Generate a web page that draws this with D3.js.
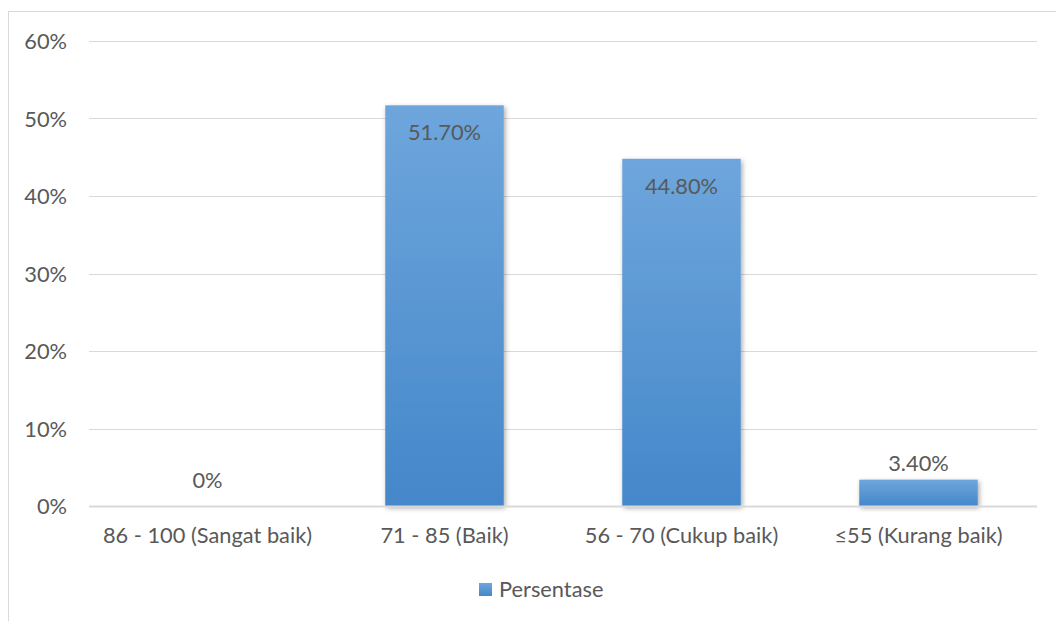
<!DOCTYPE html>
<html><head><meta charset="utf-8">
<script src="https://cdn.jsdelivr.net/npm/d3@7"></script>
<style>body{margin:0;background:#fff}svg{display:block}text{font-family:Lato,"Open Sans",sans-serif;fill:#595959}</style>
</head><body>
<svg id="c" width="1056" height="621"></svg>
<script>
const categories = ["86 - 100 (Sangat baik)", "71 - 85 (Baik)", "56 - 70 (Cukup baik)", "≤55 (Kurang baik)"];
const values = [0, 51.7, 44.8, 3.4];
const valueLabels = ["0%", "51.70%", "44.80%", "3.40%"];
const yTicks = [0, 10, 20, 30, 40, 50, 60];
const seriesName = "Persentase";

const FS = 21.8;
const svg = d3.select("#c");
const defs = svg.append("defs");
const g = defs.append("linearGradient").attr("id","bg").attr("x1",0).attr("y1",0).attr("x2",0).attr("y2",1);
g.append("stop").attr("offset","0%").attr("stop-color","#6ea6dc");
g.append("stop").attr("offset","100%").attr("stop-color","#4487ca");
const f = defs.append("filter").attr("id","sh").attr("x","-20%").attr("y","-20%").attr("width","140%").attr("height","140%");
f.append("feDropShadow").attr("dx",1.5).attr("dy",2).attr("stdDeviation",2.5).attr("flood-color","#000").attr("flood-opacity",0.35);

// chart border
svg.append("rect").attr("x",8.5).attr("y",11.5).attr("width",1100).attr("height",700)
  .attr("fill","none").attr("stroke","#d9d9d9");

const x = d3.scaleBand().domain(categories).range([89, 1037]).paddingInner(0.5).paddingOuter(0.25);
const y = d3.scaleLinear().domain([0, 60]).range([506, 41]);

// grid
svg.append("g").selectAll("line").data(yTicks).join("line")
  .attr("x1",89).attr("x2",1037).attr("y1",d=>Math.round(y(d))+0.5).attr("y2",d=>Math.round(y(d))+0.5)
  .attr("stroke","#d9d9d9").attr("stroke-width",1);

// y axis labels
const ya = svg.append("g").attr("transform","translate(67,0)")
  .call(d3.axisLeft(y).tickValues(yTicks).tickFormat(d=>d+"%").tickSize(0).tickPadding(0));
ya.select(".domain").remove();
ya.selectAll("text").attr("font-size",FS).attr("fill","#595959").style("font-family","Lato, sans-serif").attr("dy","0.35em");

// bars
svg.append("g").selectAll("rect").data(values).join("rect")
  .attr("x",(d,i)=>x(categories[i])).attr("width",x.bandwidth())
  .attr("y",d=>y(d)).attr("height",d=>y(0)-y(d))
  .attr("fill","url(#bg)").attr("filter",d=>d>0?"url(#sh)":null);

// baseline axis
svg.append("line").attr("x1",89).attr("x2",1037).attr("y1",Math.round(y(0))+0.5).attr("y2",Math.round(y(0))+0.5)
  .attr("stroke","#d9d9d9").attr("stroke-width",2);

// data labels
svg.append("g").selectAll("text").data(values).join("text")
  .attr("x",(d,i)=>x(categories[i])+x.bandwidth()/2)
  .attr("y",d=> d>10 ? y(d)+35 : (d>0 ? y(d)-9 : y(d)-18))
  .attr("text-anchor","middle").attr("font-size",FS).text((d,i)=>valueLabels[i]);

// x axis labels
const xa = svg.append("g").attr("transform","translate(0,"+y(0)+")")
  .call(d3.axisBottom(x).tickSize(0).tickPadding(0));
xa.select(".domain").remove();
xa.selectAll("text").attr("font-size",FS).attr("fill","#595959").style("font-family","Lato, sans-serif").attr("dy","1.72em");

// legend
const lg = svg.append("g");
lg.append("rect").attr("x",479).attr("y",583).attr("width",13).attr("height",13).attr("fill","url(#bg)");
lg.append("text").attr("x",499).attr("y",597).attr("font-size",FS).text(seriesName);
</script>
</body></html>
